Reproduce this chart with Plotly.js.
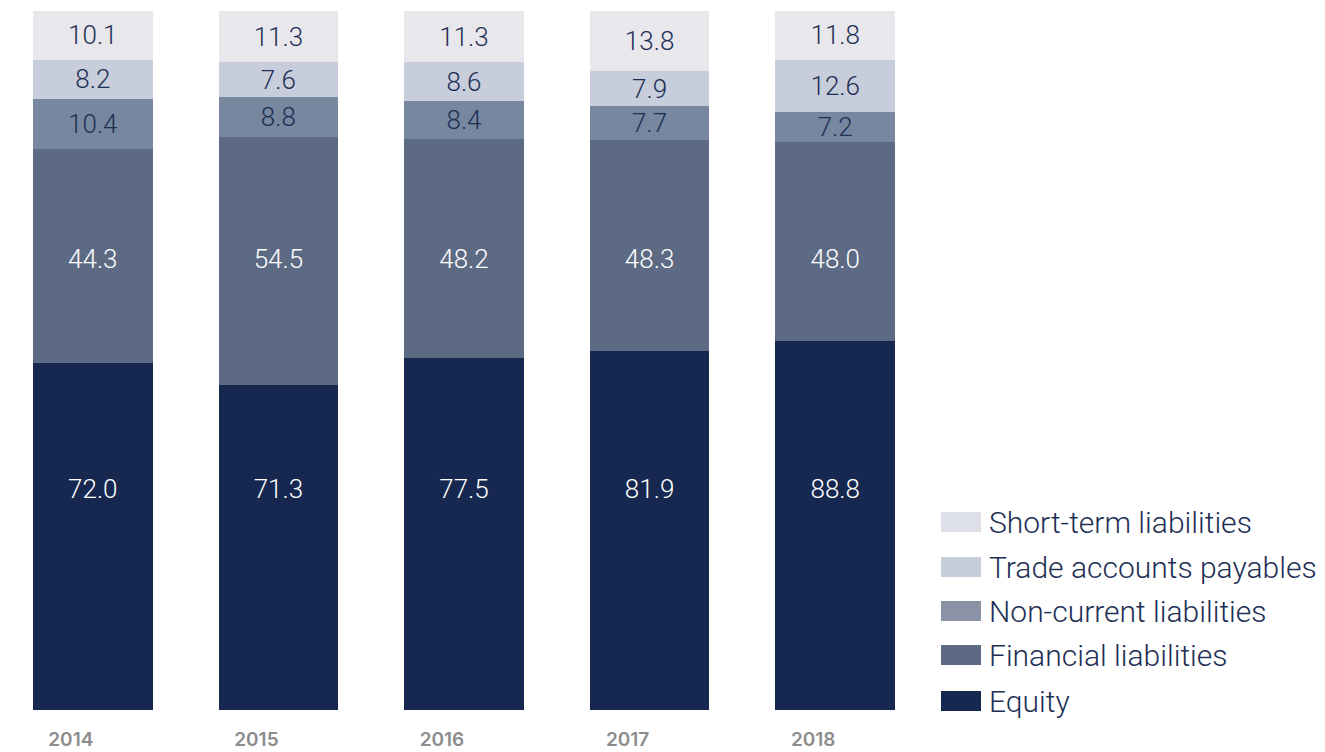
<!DOCTYPE html>
<html>
<head>
<meta charset="utf-8">
<script src="https://cdn.plot.ly/plotly-3.0.1.min.js"></script>
<style>html,body{margin:0;padding:0;background:#fff}#chart{width:1325px;height:752px}</style>
</head>
<body>
<div id="chart"></div>
<script>
var years = ['2014', '2015', '2016', '2017', '2018'];
var equity = [72.0, 71.3, 77.5, 81.9, 88.8];
var financialLiabilities = [44.3, 54.5, 48.2, 48.3, 48.0];
var nonCurrentLiabilities = [10.4, 8.8, 8.4, 7.7, 7.2];
var tradeAccountsPayables = [8.2, 7.6, 8.6, 7.9, 12.6];
var shortTermLiabilities = [10.1, 11.3, 11.3, 13.8, 11.8];

var seriesNames = ['Equity', 'Financial liabilities', 'Non-current liabilities', 'Trade accounts payables', 'Short-term liabilities'];
var seriesValues = [equity, financialLiabilities, nonCurrentLiabilities, tradeAccountsPayables, shortTermLiabilities];
var barColors = ['#16284f', '#5c6a84', '#76879f', '#c7cddb', '#e7e7ec'];
var swatchColors = ['#16284f', '#5c6a84', '#8a93a5', '#c7cddb', '#dde0e6'];
var textColors = ['#ffffff', '#ffffff', '#1e2f55', '#1e2f55', '#1e2f55'];
// the two large segments carry their labels at a fixed height (percent of bar)
var fixedLabelLevel = [31.2, 64.2, null, null, null];
var LIGHT = '"Roboto Light", Roboto, Inter, sans-serif';
var BOLD = 'Inter, Roboto, sans-serif';
var W = 1325, H = 752;
var PLOT_TOP = 11, PLOT_BOTTOM = 710;

var traces = [];
seriesNames.forEach(function (name, i) {
  var labels = seriesValues[i].map(function (v) { return v.toFixed(1); });
  var fixed = fixedLabelLevel[i] !== null;
  traces.push({
    type: 'bar',
    name: name,
    x: years,
    y: seriesValues[i],
    text: fixed ? null : labels,
    textposition: fixed ? 'none' : 'inside',
    insidetextanchor: 'middle',
    textangle: 0,
    constraintext: 'none',
    textfont: {family: LIGHT, size: 26, color: textColors[i], weight: 300},
    marker: {color: barColors[i], line: {width: 0}},
    hoverinfo: 'x+y+name',
    showlegend: false
  });
});
seriesNames.forEach(function (name, i) {
  if (fixedLabelLevel[i] === null) return;
  var labels = seriesValues[i].map(function (v) { return v.toFixed(1); });
  traces.push({
    type: 'scatter',
    mode: 'text',
    x: years,
    y: years.map(function () { return fixedLabelLevel[i]; }),
    text: labels,
    textposition: 'middle center',
    textfont: {family: LIGHT, size: 26, color: textColors[i], weight: 300},
    hoverinfo: 'skip',
    showlegend: false
  });
});

var shapes = [];
var annotations = [];
var legendY = [701, 655, 611, 567, 522];
var plotH = PLOT_BOTTOM - PLOT_TOP;
seriesNames.forEach(function (name, i) {
  var yc = (PLOT_BOTTOM - legendY[i]) / plotH;
  shapes.push({
    type: 'rect', xref: 'paper', yref: 'paper',
    x0: 941 / W, x1: 981 / W, y0: yc - 10 / plotH, y1: yc + 10 / plotH,
    fillcolor: swatchColors[i], line: {width: 0}
  });
  annotations.push({
    xref: 'paper', yref: 'paper', x: 987 / W, y: yc,
    xanchor: 'left', yanchor: 'middle', showarrow: false,
    text: name,
    font: {family: LIGHT, size: 30, color: '#1e2f55', weight: 300}
  });
});

var layout = {
  width: W,
  height: H,
  margin: {l: 0, r: 0, t: PLOT_TOP, b: H - PLOT_BOTTOM},
  paper_bgcolor: '#ffffff',
  plot_bgcolor: '#ffffff',
  barmode: 'stack',
  barnorm: 'percent',
  bargap: 0.355,
  showlegend: false,
  xaxis: {
    type: 'category',
    domain: [0, 928 / W],
    showgrid: false, zeroline: false, showline: false,
    ticks: '',
    ticklabelstandoff: 16,
    ticklabelshift: -22,
    tickfont: {family: BOLD, size: 19, color: '#8c8c8c', weight: 600}
  },
  yaxis: {
    range: [0, 100],
    showgrid: false, zeroline: false, showline: false,
    showticklabels: false, ticks: ''
  },
  shapes: shapes,
  annotations: annotations
};

Plotly.newPlot('chart', traces, layout, {displayModeBar: false});
</script>
</body>
</html>
